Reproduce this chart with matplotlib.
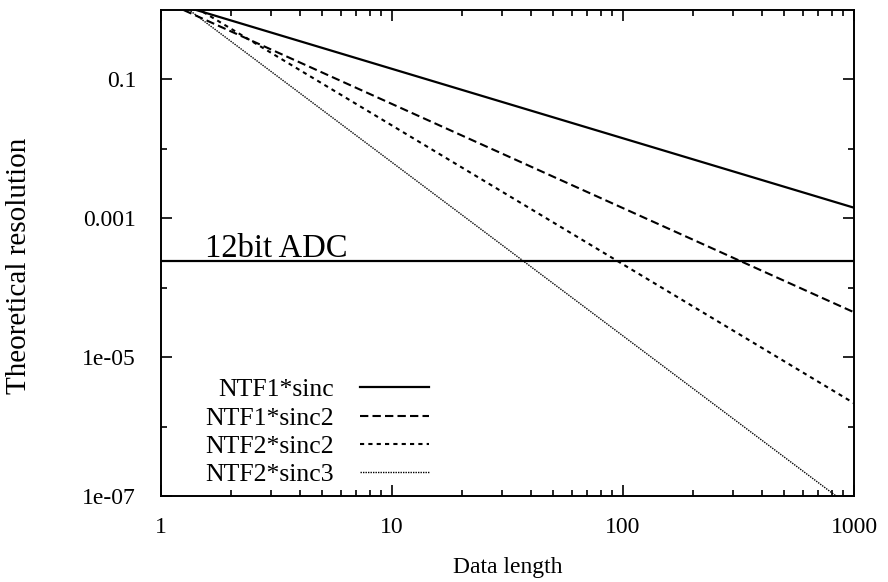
import numpy as np
import matplotlib.pyplot as plt

plt.rcParams['font.family'] = ['Liberation Serif', 'DejaVu Serif']

# end points of each straight (log-log) curve
length = [1, 1000]
ntf1_sinc = [1.42, 1.42e-3]
ntf1_sinc2 = [1.40, 4.43e-5]
ntf2_sinc2 = [2.17, 2.17e-6]
ntf2_sinc3 = [2.02, 6.4e-8]
adc_12bit = 1 / 4096

series = [
    ("NTF1*sinc", ntf1_sinc, dict(ls='-', lw=1.6)),
    ("NTF1*sinc2", ntf1_sinc2, dict(ls=(0, (4, 2)), lw=1.5)),
    ("NTF2*sinc2", ntf2_sinc2, dict(ls=(0, (2, 2)), lw=1.5)),
    ("NTF2*sinc3", ntf2_sinc3, dict(ls=(0, (1, 0.8)), lw=1.0)),
]

fig = plt.figure(figsize=(8.88, 5.82), dpi=100)
ax = fig.add_axes([161 / 888, 86 / 582, 693 / 888, 486 / 582])

for name, vals, style in series:
    ax.plot(length, vals, color='black', label=name, **style)

ax.axhline(adc_12bit, color='black', lw=1.6)
ax.text(1.55, adc_12bit * 1.14, "12bit ADC", fontsize=23.5, ha='left', va='baseline')

ax.set_xscale('log')
ax.set_yscale('log')
ax.set_xlim(1, 1000)
ax.set_ylim(1e-7, 1)

ax.set_xticks([1, 10, 100, 1000], ["1", "10", "100", "1000"])
ax.set_yticks([1e-1, 1e-3, 1e-5, 1e-7], ["0.1", "0.001", "1e-05", "1e-07"])
ax.set_yticks([1e-2, 1e-4, 1e-6], minor=True)
ax.yaxis.set_minor_formatter(plt.NullFormatter())

ax.tick_params(which='both', direction='in', top=True, right=True, width=1.2, labelsize=17)
ax.tick_params(which='major', length=8)
ax.tick_params(which='minor', length=4)
ax.tick_params(axis='y', pad=18)
ax.tick_params(axis='x', pad=15)
for sp in ax.spines.values():
    sp.set_linewidth(1.4)

ax.set_xlabel("Data length", fontsize=17, labelpad=14)
ax.set_ylabel("Theoretical resolution", fontsize=21)
ax.yaxis.set_label_coords(-0.186, 0.473)

leg = ax.legend(loc='lower right', bbox_to_anchor=(0.387, 0.021), frameon=False,
                markerfirst=False, fontsize=18.5, handlelength=2.7, handletextpad=1.0,
                labelspacing=0.2, borderpad=0, borderaxespad=0)

fig.savefig("out.png", dpi=100)
